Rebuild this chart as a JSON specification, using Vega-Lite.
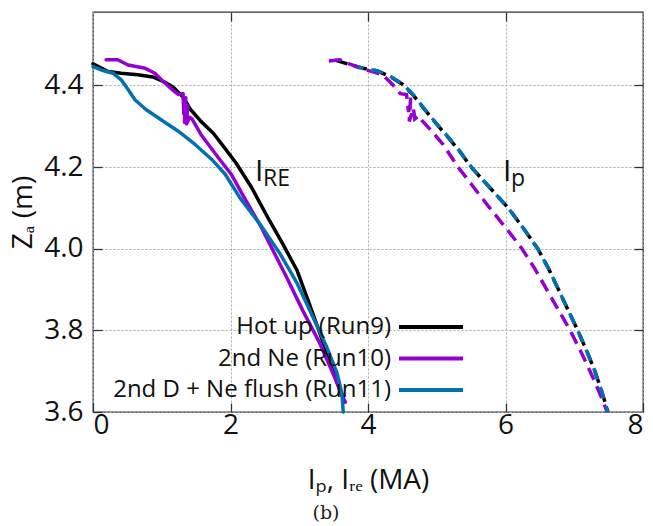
{
  "$schema": "https://vega.github.io/schema/vega-lite/v6.json",
  "width": 550,
  "height": 400,
  "autosize": "none",
  "padding": {"left": 93, "top": 12, "right": 10, "bottom": 114},
  "background": "white",
  "config": {
    "font": "Open Sans",
    "view": {"stroke": "#333333", "strokeWidth": 1.3},
    "axis": {"domain": false, "labelColor": "#111111", "titleColor": "#111111", "tickColor": "#333333", "tickWidth": 1.3}
  },
  "title": {"text": "(b)", "orient": "bottom", "font": "DejaVu Serif", "fontSize": 19, "fontWeight": "normal", "color": "#222222", "dx": -42, "offset": 10},
  "datasets": {
    "curves": [
    {"s":"Hot up (Run9)","k":"IRE","o":0,"x":0,"y":4.453},
    {"s":"Hot up (Run9)","k":"IRE","o":1,"x":0.22,"y":4.434},
    {"s":"Hot up (Run9)","k":"IRE","o":2,"x":0.41,"y":4.430},
    {"s":"Hot up (Run9)","k":"IRE","o":3,"x":0.65,"y":4.426},
    {"s":"Hot up (Run9)","k":"IRE","o":4,"x":0.87,"y":4.421},
    {"s":"Hot up (Run9)","k":"IRE","o":5,"x":1.02,"y":4.410},
    {"s":"Hot up (Run9)","k":"IRE","o":6,"x":1.16,"y":4.397},
    {"s":"Hot up (Run9)","k":"IRE","o":7,"x":1.31,"y":4.372},
    {"s":"Hot up (Run9)","k":"IRE","o":8,"x":1.41,"y":4.343},
    {"s":"Hot up (Run9)","k":"IRE","o":9,"x":1.57,"y":4.312},
    {"s":"Hot up (Run9)","k":"IRE","o":10,"x":1.75,"y":4.283},
    {"s":"Hot up (Run9)","k":"IRE","o":11,"x":1.92,"y":4.246},
    {"s":"Hot up (Run9)","k":"IRE","o":12,"x":2.08,"y":4.210},
    {"s":"Hot up (Run9)","k":"IRE","o":13,"x":2.30,"y":4.152},
    {"s":"Hot up (Run9)","k":"IRE","o":14,"x":2.57,"y":4.068},
    {"s":"Hot up (Run9)","k":"IRE","o":15,"x":2.76,"y":4.012},
    {"s":"Hot up (Run9)","k":"IRE","o":16,"x":2.97,"y":3.946},
    {"s":"Hot up (Run9)","k":"IRE","o":17,"x":3.13,"y":3.873},
    {"s":"Hot up (Run9)","k":"IRE","o":18,"x":3.27,"y":3.807},
    {"s":"Hot up (Run9)","k":"IRE","o":19,"x":3.40,"y":3.744},
    {"s":"Hot up (Run9)","k":"IRE","o":20,"x":3.52,"y":3.685},
    {"s":"Hot up (Run9)","k":"IRE","o":21,"x":3.62,"y":3.641},
    {"s":"2nd Ne (Run10)","k":"IRE","o":0,"x":0.19,"y":4.463},
    {"s":"2nd Ne (Run10)","k":"IRE","o":1,"x":0.36,"y":4.463},
    {"s":"2nd Ne (Run10)","k":"IRE","o":2,"x":0.51,"y":4.450},
    {"s":"2nd Ne (Run10)","k":"IRE","o":3,"x":0.76,"y":4.442},
    {"s":"2nd Ne (Run10)","k":"IRE","o":4,"x":0.90,"y":4.430},
    {"s":"2nd Ne (Run10)","k":"IRE","o":5,"x":1.02,"y":4.410},
    {"s":"2nd Ne (Run10)","k":"IRE","o":6,"x":1.13,"y":4.393},
    {"s":"2nd Ne (Run10)","k":"IRE","o":7,"x":1.24,"y":4.378},
    {"s":"2nd Ne (Run10)","k":"IRE","o":8,"x":1.31,"y":4.380},
    {"s":"2nd Ne (Run10)","k":"IRE","o":9,"x":1.32,"y":4.330},
    {"s":"2nd Ne (Run10)","k":"IRE","o":10,"x":1.35,"y":4.370},
    {"s":"2nd Ne (Run10)","k":"IRE","o":11,"x":1.33,"y":4.310},
    {"s":"2nd Ne (Run10)","k":"IRE","o":12,"x":1.38,"y":4.350},
    {"s":"2nd Ne (Run10)","k":"IRE","o":13,"x":1.36,"y":4.306},
    {"s":"2nd Ne (Run10)","k":"IRE","o":14,"x":1.41,"y":4.322},
    {"s":"2nd Ne (Run10)","k":"IRE","o":15,"x":1.44,"y":4.318},
    {"s":"2nd Ne (Run10)","k":"IRE","o":16,"x":1.57,"y":4.280},
    {"s":"2nd Ne (Run10)","k":"IRE","o":17,"x":1.72,"y":4.246},
    {"s":"2nd Ne (Run10)","k":"IRE","o":18,"x":1.86,"y":4.215},
    {"s":"2nd Ne (Run10)","k":"IRE","o":19,"x":2.01,"y":4.183},
    {"s":"2nd Ne (Run10)","k":"IRE","o":20,"x":2.20,"y":4.125},
    {"s":"2nd Ne (Run10)","k":"IRE","o":21,"x":2.44,"y":4.055},
    {"s":"2nd Ne (Run10)","k":"IRE","o":22,"x":2.60,"y":4.002},
    {"s":"2nd Ne (Run10)","k":"IRE","o":23,"x":2.82,"y":3.929},
    {"s":"2nd Ne (Run10)","k":"IRE","o":24,"x":3.05,"y":3.849},
    {"s":"2nd Ne (Run10)","k":"IRE","o":25,"x":3.30,"y":3.768},
    {"s":"2nd Ne (Run10)","k":"IRE","o":26,"x":3.49,"y":3.695},
    {"s":"2nd Ne (Run10)","k":"IRE","o":27,"x":3.67,"y":3.624},
    {"s":"2nd D + Ne flush (Run11)","k":"IRE","o":0,"x":0,"y":4.446},
    {"s":"2nd D + Ne flush (Run11)","k":"IRE","o":1,"x":0.12,"y":4.438},
    {"s":"2nd D + Ne flush (Run11)","k":"IRE","o":2,"x":0.29,"y":4.430},
    {"s":"2nd D + Ne flush (Run11)","k":"IRE","o":3,"x":0.41,"y":4.414},
    {"s":"2nd D + Ne flush (Run11)","k":"IRE","o":4,"x":0.51,"y":4.390},
    {"s":"2nd D + Ne flush (Run11)","k":"IRE","o":5,"x":0.61,"y":4.365},
    {"s":"2nd D + Ne flush (Run11)","k":"IRE","o":6,"x":0.77,"y":4.341},
    {"s":"2nd D + Ne flush (Run11)","k":"IRE","o":7,"x":0.99,"y":4.316},
    {"s":"2nd D + Ne flush (Run11)","k":"IRE","o":8,"x":1.24,"y":4.288},
    {"s":"2nd D + Ne flush (Run11)","k":"IRE","o":9,"x":1.48,"y":4.256},
    {"s":"2nd D + Ne flush (Run11)","k":"IRE","o":10,"x":1.72,"y":4.220},
    {"s":"2nd D + Ne flush (Run11)","k":"IRE","o":11,"x":1.92,"y":4.183},
    {"s":"2nd D + Ne flush (Run11)","k":"IRE","o":12,"x":2.14,"y":4.124},
    {"s":"2nd D + Ne flush (Run11)","k":"IRE","o":13,"x":2.43,"y":4.060},
    {"s":"2nd D + Ne flush (Run11)","k":"IRE","o":14,"x":2.72,"y":3.988},
    {"s":"2nd D + Ne flush (Run11)","k":"IRE","o":15,"x":2.97,"y":3.915},
    {"s":"2nd D + Ne flush (Run11)","k":"IRE","o":16,"x":3.20,"y":3.832},
    {"s":"2nd D + Ne flush (Run11)","k":"IRE","o":17,"x":3.40,"y":3.759},
    {"s":"2nd D + Ne flush (Run11)","k":"IRE","o":18,"x":3.55,"y":3.695},
    {"s":"2nd D + Ne flush (Run11)","k":"IRE","o":19,"x":3.62,"y":3.646},
    {"s":"2nd D + Ne flush (Run11)","k":"IRE","o":20,"x":3.64,"y":3.600},
    {"s":"Hot up (Run9)","k":"Ip","o":0,"x":3.52,"y":4.462},
    {"s":"Hot up (Run9)","k":"Ip","o":1,"x":3.74,"y":4.451},
    {"s":"Hot up (Run9)","k":"Ip","o":2,"x":3.93,"y":4.442},
    {"s":"Hot up (Run9)","k":"Ip","o":3,"x":4.13,"y":4.436},
    {"s":"Hot up (Run9)","k":"Ip","o":4,"x":4.32,"y":4.422},
    {"s":"Hot up (Run9)","k":"Ip","o":5,"x":4.51,"y":4.402},
    {"s":"Hot up (Run9)","k":"Ip","o":6,"x":4.65,"y":4.378},
    {"s":"Hot up (Run9)","k":"Ip","o":7,"x":4.80,"y":4.346},
    {"s":"Hot up (Run9)","k":"Ip","o":8,"x":5.00,"y":4.305},
    {"s":"Hot up (Run9)","k":"Ip","o":9,"x":5.19,"y":4.268},
    {"s":"Hot up (Run9)","k":"Ip","o":10,"x":5.35,"y":4.235},
    {"s":"Hot up (Run9)","k":"Ip","o":11,"x":5.50,"y":4.200},
    {"s":"Hot up (Run9)","k":"Ip","o":12,"x":5.77,"y":4.150},
    {"s":"Hot up (Run9)","k":"Ip","o":13,"x":6.04,"y":4.100},
    {"s":"Hot up (Run9)","k":"Ip","o":14,"x":6.26,"y":4.050},
    {"s":"Hot up (Run9)","k":"Ip","o":15,"x":6.47,"y":4.000},
    {"s":"Hot up (Run9)","k":"Ip","o":16,"x":6.63,"y":3.950},
    {"s":"Hot up (Run9)","k":"Ip","o":17,"x":6.77,"y":3.900},
    {"s":"Hot up (Run9)","k":"Ip","o":18,"x":6.91,"y":3.850},
    {"s":"Hot up (Run9)","k":"Ip","o":19,"x":7.05,"y":3.800},
    {"s":"Hot up (Run9)","k":"Ip","o":20,"x":7.18,"y":3.750},
    {"s":"Hot up (Run9)","k":"Ip","o":21,"x":7.30,"y":3.700},
    {"s":"Hot up (Run9)","k":"Ip","o":22,"x":7.40,"y":3.650},
    {"s":"Hot up (Run9)","k":"Ip","o":23,"x":7.49,"y":3.600},
    {"s":"2nd Ne (Run10)","k":"Ip","o":0,"x":3.43,"y":4.460},
    {"s":"2nd Ne (Run10)","k":"Ip","o":1,"x":3.59,"y":4.463},
    {"s":"2nd Ne (Run10)","k":"Ip","o":2,"x":3.74,"y":4.452},
    {"s":"2nd Ne (Run10)","k":"Ip","o":3,"x":3.93,"y":4.440},
    {"s":"2nd Ne (Run10)","k":"Ip","o":4,"x":4.10,"y":4.432},
    {"s":"2nd Ne (Run10)","k":"Ip","o":5,"x":4.22,"y":4.425},
    {"s":"2nd Ne (Run10)","k":"Ip","o":6,"x":4.36,"y":4.402},
    {"s":"2nd Ne (Run10)","k":"Ip","o":7,"x":4.47,"y":4.380},
    {"s":"2nd Ne (Run10)","k":"Ip","o":8,"x":4.56,"y":4.378},
    {"s":"2nd Ne (Run10)","k":"Ip","o":9,"x":4.59,"y":4.335},
    {"s":"2nd Ne (Run10)","k":"Ip","o":10,"x":4.62,"y":4.370},
    {"s":"2nd Ne (Run10)","k":"Ip","o":11,"x":4.60,"y":4.312},
    {"s":"2nd Ne (Run10)","k":"Ip","o":12,"x":4.66,"y":4.345},
    {"s":"2nd Ne (Run10)","k":"Ip","o":13,"x":4.68,"y":4.318},
    {"s":"2nd Ne (Run10)","k":"Ip","o":14,"x":4.74,"y":4.326},
    {"s":"2nd Ne (Run10)","k":"Ip","o":15,"x":4.78,"y":4.315},
    {"s":"2nd Ne (Run10)","k":"Ip","o":16,"x":4.90,"y":4.293},
    {"s":"2nd Ne (Run10)","k":"Ip","o":17,"x":5.09,"y":4.256},
    {"s":"2nd Ne (Run10)","k":"Ip","o":18,"x":5.31,"y":4.200},
    {"s":"2nd Ne (Run10)","k":"Ip","o":19,"x":5.54,"y":4.150},
    {"s":"2nd Ne (Run10)","k":"Ip","o":20,"x":5.77,"y":4.100},
    {"s":"2nd Ne (Run10)","k":"Ip","o":21,"x":6.01,"y":4.050},
    {"s":"2nd Ne (Run10)","k":"Ip","o":22,"x":6.24,"y":4.000},
    {"s":"2nd Ne (Run10)","k":"Ip","o":23,"x":6.43,"y":3.950},
    {"s":"2nd Ne (Run10)","k":"Ip","o":24,"x":6.60,"y":3.900},
    {"s":"2nd Ne (Run10)","k":"Ip","o":25,"x":6.77,"y":3.850},
    {"s":"2nd Ne (Run10)","k":"Ip","o":26,"x":6.94,"y":3.800},
    {"s":"2nd Ne (Run10)","k":"Ip","o":27,"x":7.09,"y":3.750},
    {"s":"2nd Ne (Run10)","k":"Ip","o":28,"x":7.23,"y":3.700},
    {"s":"2nd Ne (Run10)","k":"Ip","o":29,"x":7.36,"y":3.650},
    {"s":"2nd Ne (Run10)","k":"Ip","o":30,"x":7.48,"y":3.600},
    {"s":"2nd D + Ne flush (Run11)","k":"Ip","o":0,"x":3.85,"y":4.446},
    {"s":"2nd D + Ne flush (Run11)","k":"Ip","o":1,"x":3.93,"y":4.442},
    {"s":"2nd D + Ne flush (Run11)","k":"Ip","o":2,"x":4.13,"y":4.436},
    {"s":"2nd D + Ne flush (Run11)","k":"Ip","o":3,"x":4.32,"y":4.423},
    {"s":"2nd D + Ne flush (Run11)","k":"Ip","o":4,"x":4.51,"y":4.403},
    {"s":"2nd D + Ne flush (Run11)","k":"Ip","o":5,"x":4.65,"y":4.379},
    {"s":"2nd D + Ne flush (Run11)","k":"Ip","o":6,"x":4.80,"y":4.347},
    {"s":"2nd D + Ne flush (Run11)","k":"Ip","o":7,"x":5.00,"y":4.306},
    {"s":"2nd D + Ne flush (Run11)","k":"Ip","o":8,"x":5.19,"y":4.269},
    {"s":"2nd D + Ne flush (Run11)","k":"Ip","o":9,"x":5.35,"y":4.236},
    {"s":"2nd D + Ne flush (Run11)","k":"Ip","o":10,"x":5.50,"y":4.201},
    {"s":"2nd D + Ne flush (Run11)","k":"Ip","o":11,"x":5.77,"y":4.150},
    {"s":"2nd D + Ne flush (Run11)","k":"Ip","o":12,"x":6.04,"y":4.100},
    {"s":"2nd D + Ne flush (Run11)","k":"Ip","o":13,"x":6.26,"y":4.050},
    {"s":"2nd D + Ne flush (Run11)","k":"Ip","o":14,"x":6.47,"y":4.000},
    {"s":"2nd D + Ne flush (Run11)","k":"Ip","o":15,"x":6.63,"y":3.950},
    {"s":"2nd D + Ne flush (Run11)","k":"Ip","o":16,"x":6.77,"y":3.900},
    {"s":"2nd D + Ne flush (Run11)","k":"Ip","o":17,"x":6.91,"y":3.850},
    {"s":"2nd D + Ne flush (Run11)","k":"Ip","o":18,"x":7.05,"y":3.800},
    {"s":"2nd D + Ne flush (Run11)","k":"Ip","o":19,"x":7.18,"y":3.750},
    {"s":"2nd D + Ne flush (Run11)","k":"Ip","o":20,"x":7.30,"y":3.700},
    {"s":"2nd D + Ne flush (Run11)","k":"Ip","o":21,"x":7.40,"y":3.650},
    {"s":"2nd D + Ne flush (Run11)","k":"Ip","o":22,"x":7.49,"y":3.600}
    ],
    "labels": [
      {"name": "RE", "x": 2.356, "y": 4.166},
      {"name": "p", "x": 5.964, "y": 4.166}
    ]
  },
  "resolve": {"axis": {"x": "independent", "y": "independent"}},
  "layer": [
    {
      "data": {"name": "curves"},
      "transform": [{"filter": {"field": "k", "equal": "IRE"}}, {"filter": {"field": "s", "equal": "Hot up (Run9)"}}],
      "mark": {"type": "line", "strokeWidth": 3.5, "strokeJoin": "round", "strokeCap": "round"},
      "encoding": {
        "x": {"field": "x", "type": "quantitative", "scale": {"domain": [0, 8], "nice": false, "zero": false},
          "axis": {"values": [0, 2, 4, 6, 8], "format": "d", "labelFontSize": 28, "labelPadding": 8, "tickSize": -9,
            "grid": true, "gridColor": "#a8a8a8", "gridDash": [2, 2], "gridWidth": 1,
            "title": "Iₚ, Iᵣₑ (MA)", "titleFontSize": 28, "titleFontWeight": "normal", "titlePadding": 27}},
        "y": {"field": "y", "type": "quantitative", "scale": {"domain": [3.6, 4.58], "nice": false, "zero": false},
          "axis": {"values": [3.6, 3.8, 4.0, 4.2, 4.4], "format": ".1f", "labelFontSize": 28, "labelPadding": 19, "tickSize": -9,
            "grid": true, "gridColor": "#a8a8a8", "gridDash": [2, 2], "gridWidth": 1,
            "title": "Zₐ (m)", "titleFontSize": 28, "titleFontWeight": "normal", "titlePadding": 6}},
        "color": {"field": "s", "type": "nominal",
          "scale": {"domain": ["Hot up (Run9)", "2nd Ne (Run10)", "2nd D + Ne flush (Run11)"], "range": ["#000000", "#9400D3", "#0072B2"]},
          "legend": {"orient": "none", "legendX": 326, "legendY": 303, "title": null, "padding": 0,
            "labelFontSize": 24, "labelColor": "#111111", "labelAlign": "right", "labelOffset": -52, "labelLimit": 500,
            "symbolType": "M-4,0H4", "symbolSize": 256, "symbolStrokeWidth": 4, "symbolDash": [1000, 0], "rowPadding": 7.5}},
        "order": {"field": "o", "type": "quantitative"}
      }
    },
    {
      "data": {"name": "curves"},
      "transform": [{"filter": {"field": "k", "equal": "IRE"}}, {"filter": {"field": "s", "equal": "2nd Ne (Run10)"}}],
      "mark": {"type": "line", "strokeWidth": 3.5, "strokeJoin": "round", "strokeCap": "round"},
      "encoding": {
        "x": {"field": "x", "type": "quantitative", "axis": null},
        "y": {"field": "y", "type": "quantitative", "axis": null},
        "color": {"field": "s", "type": "nominal"},
        "order": {"field": "o", "type": "quantitative"}
      }
    },
    {
      "data": {"name": "curves"},
      "transform": [{"filter": {"field": "k", "equal": "IRE"}}, {"filter": {"field": "s", "equal": "2nd D + Ne flush (Run11)"}}],
      "mark": {"type": "line", "strokeWidth": 3.5, "strokeJoin": "round", "strokeCap": "round"},
      "encoding": {
        "x": {"field": "x", "type": "quantitative", "axis": null},
        "y": {"field": "y", "type": "quantitative", "axis": null},
        "color": {"field": "s", "type": "nominal"},
        "order": {"field": "o", "type": "quantitative"}
      }
    },
    {
      "data": {"name": "curves"},
      "transform": [{"filter": {"field": "k", "equal": "Ip"}}, {"filter": {"field": "s", "equal": "Hot up (Run9)"}}],
      "mark": {"type": "line", "strokeWidth": 3.5, "strokeDash": [13, 7]},
      "encoding": {
        "x": {"field": "x", "type": "quantitative", "axis": null},
        "y": {"field": "y", "type": "quantitative", "axis": null},
        "color": {"field": "s", "type": "nominal"},
        "order": {"field": "o", "type": "quantitative"}
      }
    },
    {
      "data": {"name": "curves"},
      "transform": [{"filter": {"field": "k", "equal": "Ip"}}, {"filter": {"field": "s", "equal": "2nd Ne (Run10)"}}],
      "mark": {"type": "line", "strokeWidth": 3.5, "strokeDash": [13, 7]},
      "encoding": {
        "x": {"field": "x", "type": "quantitative", "axis": null},
        "y": {"field": "y", "type": "quantitative", "axis": null},
        "color": {"field": "s", "type": "nominal"},
        "order": {"field": "o", "type": "quantitative"}
      }
    },
    {
      "data": {"name": "curves"},
      "transform": [{"filter": {"field": "k", "equal": "Ip"}}, {"filter": {"field": "s", "equal": "2nd D + Ne flush (Run11)"}}],
      "mark": {"type": "line", "strokeWidth": 3.5, "strokeDash": [12, 8], "strokeDashOffset": 6},
      "encoding": {
        "x": {"field": "x", "type": "quantitative", "axis": null},
        "y": {"field": "y", "type": "quantitative", "axis": null},
        "color": {"field": "s", "type": "nominal"},
        "order": {"field": "o", "type": "quantitative"}
      }
    },
    {
      "data": {"name": "curves"},
      "transform": [{"filter": {"field": "k", "equal": "IRE"}}],
      "mark": {"type": "point", "opacity": 0},
      "encoding": {
        "x": {"field": "x", "type": "quantitative", "axis": {"orient": "top", "values": [2, 4, 6], "labels": false, "title": null, "grid": false, "tickSize": -9}},
        "y": {"field": "y", "type": "quantitative", "axis": {"orient": "right", "values": [3.8, 4.0, 4.2, 4.4], "labels": false, "title": null, "grid": false, "tickSize": -9}}
      }
    },
    {
      "data": {"name": "labels"},
      "mark": {"type": "text", "text": "I", "fontSize": 30, "align": "left", "baseline": "alphabetic", "color": "#111111"},
      "encoding": {"x": {"field": "x", "type": "quantitative", "axis": null}, "y": {"field": "y", "type": "quantitative", "axis": null}}
    },
    {
      "data": {"name": "labels"},
      "mark": {"type": "text", "fontSize": 23, "align": "left", "baseline": "alphabetic", "dx": 8, "dy": 5, "color": "#111111"},
      "encoding": {"x": {"field": "x", "type": "quantitative", "axis": null}, "y": {"field": "y", "type": "quantitative", "axis": null}, "text": {"field": "name"}}
    }
  ]
}
